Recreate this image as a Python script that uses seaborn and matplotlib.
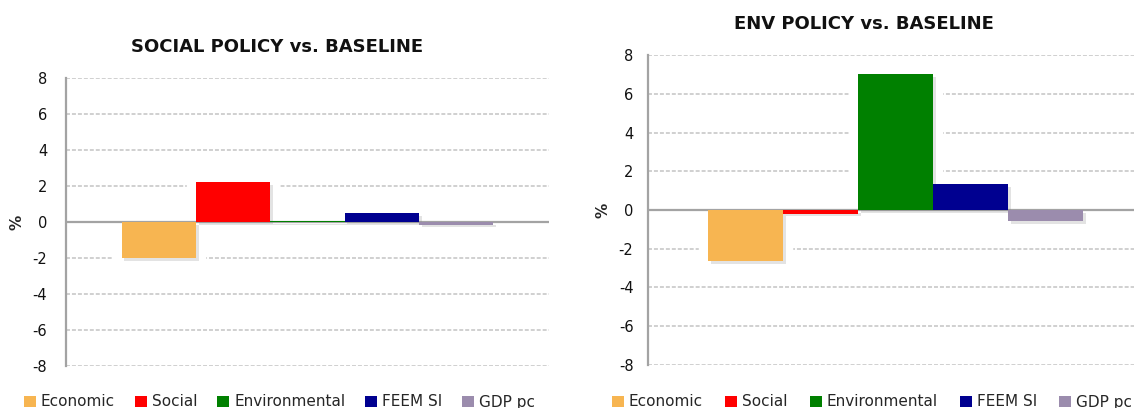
import numpy as np
import pandas as pd
import matplotlib
matplotlib.use("Agg")
import matplotlib.pyplot as plt
import seaborn as sns
from matplotlib import patheffects as pe
from matplotlib.patches import Rectangle, Patch

# Indicators and their change (%) relative to the baseline scenario
indicators = ["Economic", "Social", "Environmental", "FEEM SI", "GDP pc"]
social_policy = [-2.00, 2.22, 0.05, 0.50, -0.15]
env_policy = [-2.64, -0.19, 7.04, 1.35, -0.57]
colors = ["#F7B551", "#FF0000", "#008000", "#000090", "#9B8CAD"]
yticks = [-8, -6, -4, -2, 0, 2, 4, 6, 8]
titles = ["SOCIAL POLICY vs. BASELINE", "ENV POLICY vs. BASELINE"]

sns.set_theme(style="white")
plt.rcParams["font.family"] = ["DejaVu Sans"]
plt.rcParams["axes.unicode_minus"] = False

W, H = 1134, 408
fig = plt.figure(figsize=(W / 100, H / 100), dpi=100)


def fx(px):
    return px / W


def fy(py):
    return 1 - py / H


def panel(rect, values, bar_width, tick_pad):
    ax = fig.add_axes(rect)
    df = pd.DataFrame({"group": ["all"] * len(indicators),
                       "indicator": indicators,
                       "value": values})
    sns.barplot(data=df, x="group", y="value", hue="indicator",
                hue_order=indicators, palette=colors, saturation=1,
                width=bar_width, errorbar=None, legend=False, ax=ax)
    bars = list(ax.patches)
    for p in bars:
        # white glow behind each bar that interrupts the gridlines
        halo = Rectangle(p.get_xy(), p.get_width(), p.get_height(),
                         facecolor="white", edgecolor="white",
                         linewidth=14, zorder=0.8)
        ax.add_patch(halo)
        p.set_zorder(2)
        p.set_linewidth(0)
        p.set_path_effects([pe.SimplePatchShadow(offset=(2, -2),
                                                 shadow_rgbFace="#808080",
                                                 alpha=0.22),
                            pe.Normal()])
    ax.set_xlim(-0.5, 0.5)
    ax.set_ylim(-8, 8)
    ax.set_yticks(yticks)
    ax.set_xticks([])
    ax.set_xlabel("")
    ax.set_ylabel("")
    ax.set_axisbelow(True)
    ax.yaxis.grid(True, color="#C4C4C4", linewidth=1.1,
                  linestyle=(0, (2.6, 1.3)), zorder=0.5)
    ax.axhline(0, color="#A3A3A3", linewidth=1.6, zorder=1.5)
    for side in ["top", "right", "bottom"]:
        ax.spines[side].set_visible(False)
    ax.spines["left"].set_color("#A3A3A3")
    ax.spines["left"].set_linewidth(1.6)
    ax.tick_params(axis="y", length=0, pad=tick_pad, labelsize=10.5,
                   labelcolor="#111111")
    return ax


ax1 = panel([fx(66), fy(366), fx(549 - 66), (366 - 78) / H],
            social_policy, 0.77, 13.5)
ax2 = panel([fx(648), fy(364.7), fx(1143 - 648), (364.7 - 55.3) / H],
            env_policy, 0.758, 10.5)

fig.text(fx(277), fy(47), titles[0], ha="center", va="center",
         fontsize=13, fontweight="bold", color="#111111")
fig.text(fx(864), fy(24), titles[1], ha="center", va="center",
         fontsize=13, fontweight="bold", color="#111111")

fig.text(fx(17), fy(222), "%", rotation=90, ha="center", va="center",
         fontsize=11, fontweight="bold")
fig.text(fx(603), fy(210), "%", rotation=90, ha="center", va="center",
         fontsize=11, fontweight="bold")

handles = [Patch(facecolor=c, edgecolor="none", label=l)
           for c, l in zip(colors, indicators)]
for x0, spacing in ((24, 1.3), (612, 1.45)):
    fig.legend(handles=handles, loc="center left",
               bbox_to_anchor=(fx(x0), fy(402)), ncol=5, frameon=False,
               fontsize=11, handlelength=0.78, handleheight=0.7,
               handletextpad=0.33, columnspacing=spacing, borderpad=0,
               borderaxespad=0)

fig.savefig("out.png", dpi=100)
